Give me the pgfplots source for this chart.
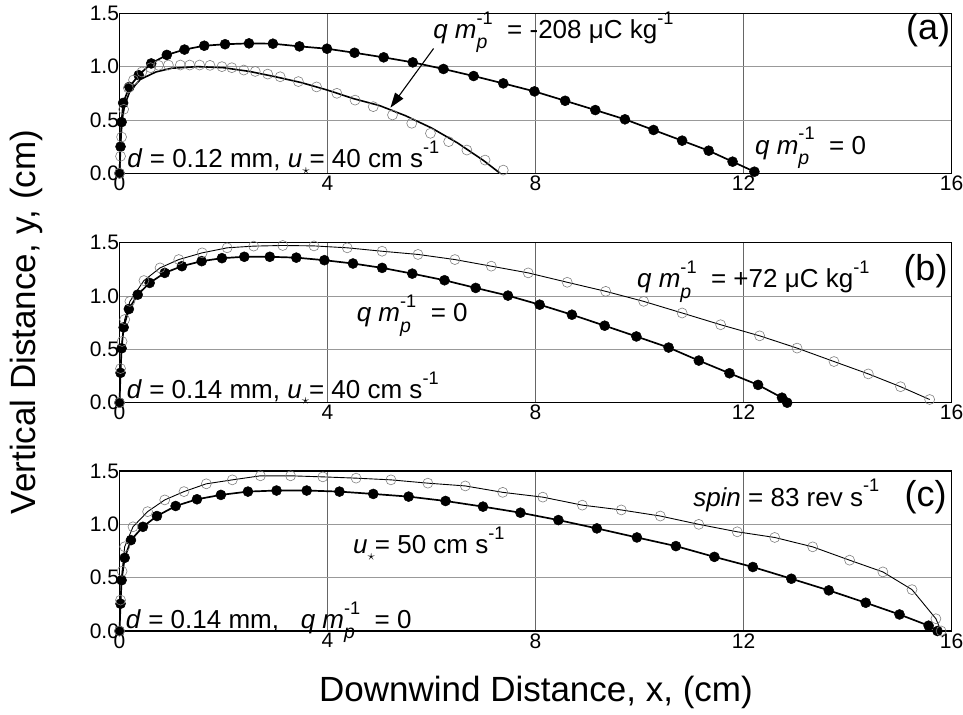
\documentclass[border=0pt]{standalone}
\usepackage{fontspec}
\setmainfont{Liberation Sans}
\usepackage{graphicx}
\usepackage{pgfplots}
\pgfplotsset{compat=1.18}
\usetikzlibrary{arrows.meta}

\newcommand{\supm}[1]{\raisebox{0.55em}{\scalebox{0.7}{#1}}}
\newcommand{\qm}{\textit{q m}\makebox[0pt][l]{\raisebox{-0.4em}{\scalebox{0.75}{\textit{p}}}}\supm{-1}}
\newcommand{\ustar}{\textit{u}\raisebox{-0.25em}{\scalebox{0.6}{$\star$}}}
\newcommand{\ann}{\fontsize{26bp}{30bp}\selectfont}
\newcommand{\panelfont}{\fontsize{36bp}{38bp}\selectfont}

\pgfplotsset{
  panel/.style={
    scale only axis, width=832bp, height=160bp,
    xmin=0, xmax=16, ymin=0, ymax=1.5,
    xtick={0,4,8,12,16}, ytick={0,0.5,1,1.5},
    xmajorgrids, ymajorgrids,
    x grid style={black!60, line width=0.5pt},
    y grid style={black!40, line width=0.5pt},
    axis line style={line width=1.3pt},
    tick style={draw=none},
    /pgf/number format/assume math mode=true,
    tick label style={font=\fontsize{21bp}{23bp}\selectfont},
    yticklabel={\pgfmathprintnumber[fixed,fixed zerofill,precision=1]{\tick}},
    yticklabel style={xshift=3bp},
    xticklabel style={yshift=1bp},
    clip=false,
  },
  full/.style={black, line width=1.7pt, mark=*, mark size=5bp, mark options={fill=black, line width=0.5pt}},
  open/.style={black, line width=0.9pt, mark=o, mark size=5bp, mark options={draw=black!50, line width=0.6pt}},
  openmk/.style={only marks, mark=o, mark size=5bp, mark options={draw=black!50, line width=0.6pt}},
}

\begin{document}
\begin{tikzpicture}
\useasboundingbox (-119.5bp,0bp) rectangle (843.5bp,-715bp);

% ---------------- panel (a)
\begin{axis}[panel, at={(0bp,-173.3bp)}, anchor=south west]
\addplot[full] coordinates {
(0,0) (0.02,0.25) (0.04,0.48) (0.07,0.66) (0.19,0.81) (0.37,0.92) (0.61,1.03)
(0.91,1.11) (1.25,1.16) (1.63,1.196) (2.03,1.21) (2.49,1.218) (2.95,1.215)
(3.46,1.19) (3.99,1.168) (4.52,1.13) (5.08,1.087) (5.64,1.04) (6.23,0.978)
(6.81,0.912) (7.38,0.843) (7.98,0.768) (8.57,0.68) (9.15,0.593) (9.72,0.506)
(10.27,0.406) (10.82,0.306) (11.33,0.212) (11.79,0.109) (12.21,0.015)};
\addplot[openmk] coordinates {
(0,0) (0.02,0.16) (0.04,0.34) (0.08,0.6) (0.17,0.8) (0.27,0.875) (0.43,0.95)
(0.6,0.99) (0.75,1.012) (0.94,1.015) (1.17,1.015) (1.35,1.015) (1.54,1.015)
(1.74,1.012) (1.97,1.0) (2.16,0.99) (2.39,0.968) (2.61,0.955) (2.85,0.93)
(3.09,0.905) (3.44,0.86) (3.79,0.81) (4.18,0.75) (4.53,0.686) (4.88,0.625)
(5.25,0.547) (5.62,0.469) (5.98,0.375) (6.33,0.297) (6.68,0.218) (7.03,0.124)
(7.38,0.03)};
\addplot[black, line width=1.6pt] coordinates {
(0,0) (0.02,0.3) (0.05,0.5) (0.1,0.64) (0.2,0.77) (0.4,0.88) (0.7,0.95) (1.0,0.985)
(1.5,1.0) (2.0,0.99) (2.5,0.955) (3,0.905) (3.5,0.85) (4,0.78) (4.5,0.70) (5,0.635)
(5.5,0.54) (6,0.425) (6.5,0.285) (7,0.12) (7.32,0)};
\draw[-{Triangle[length=15bp,width=10bp]}, line width=1.1pt] (axis cs:6.04,1.17) -- (axis cs:5.21,0.615);
\node[anchor=base west, font=\ann, inner sep=0pt] at (axis cs:6.03,1.265) {\qm{} \ = -208 μC kg\supm{-1}};
\node[anchor=base west, font=\ann, inner sep=0pt] at (axis cs:12.22,0.18) {\qm{} \ = 0};
\node[anchor=base west, font=\ann, inner sep=0pt] at (axis cs:0.15,0.05) {\textit{d} = 0.12 mm, \ustar{}= 40 cm s\supm{-1}};
\node[font=\panelfont, inner sep=0pt] at (axis cs:15.55,1.34) {(a)};
\end{axis}

% ---------------- panel (b)
\begin{axis}[panel, at={(0bp,-402.7bp)}, anchor=south west]
\addplot[full] coordinates {
(0,0) (0.02,0.28) (0.04,0.51) (0.08,0.706) (0.18,0.878) (0.35,1.013) (0.58,1.123)
(0.87,1.217) (1.2,1.28) (1.58,1.327) (1.97,1.355) (2.4,1.368) (2.89,1.368)
(3.40,1.36) (3.94,1.336) (4.49,1.305) (5.05,1.264) (5.63,1.21) (6.25,1.148)
(6.85,1.076) (7.47,1.004) (8.08,0.919) (8.70,0.825) (9.33,0.722) (9.94,0.621)
(10.56,0.517) (11.14,0.395) (11.73,0.276) (12.28,0.167) (12.74,0.047) (12.84,0.0)};
\addplot[open] coordinates {
(0,0) (0.02,0.32) (0.05,0.574) (0.1,0.78) (0.2,0.95) (0.47,1.145) (0.78,1.264)
(1.14,1.342) (1.59,1.405) (2.07,1.452) (2.58,1.468) (3.14,1.474) (3.74,1.47)
(4.38,1.452) (5.05,1.42) (5.74,1.39) (6.45,1.342) (7.15,1.28) (7.86,1.217)
(8.61,1.129) (9.35,1.044) (10.08,0.95) (10.82,0.841) (11.56,0.731) (12.31,0.627)
(13.03,0.512) (13.74,0.386) (14.40,0.27) (15.02,0.15) (15.58,0.03)};
\node[anchor=base west, font=\ann, inner sep=0pt] at (axis cs:4.56,0.76) {\qm{} \ = 0};
\node[anchor=base west, font=\ann, inner sep=0pt] at (axis cs:9.95,1.076) {\qm{} \ = +72 μC kg\supm{-1}};
\node[anchor=base west, font=\ann, inner sep=0pt] at (axis cs:0.14,0.04) {\textit{d} = 0.14 mm, \ustar{}= 40 cm s\supm{-1}};
\node[font=\panelfont, inner sep=0pt] at (axis cs:15.5,1.23) {(b)};
\end{axis}

% ---------------- panel (c)
\begin{axis}[panel, at={(0bp,-631bp)}, anchor=south west]
\addplot[full] coordinates {
(0,0) (0.02,0.256) (0.04,0.476) (0.1,0.686) (0.22,0.852) (0.45,0.977) (0.72,1.078)
(1.08,1.172) (1.49,1.235) (1.95,1.276) (2.47,1.307) (3.02,1.317) (3.60,1.317)
(4.23,1.307) (4.88,1.285) (5.56,1.26) (6.27,1.219) (6.99,1.166) (7.71,1.109)
(8.44,1.04) (9.18,0.962) (9.95,0.877) (10.70,0.796) (11.44,0.695) (12.18,0.60)
(12.92,0.49) (13.64,0.381) (14.35,0.265) (15.0,0.155) (15.56,0.05) (15.73,0.0)};
\addplot[open] coordinates {
(0,0) (0.02,0.29) (0.05,0.56) (0.1,0.79) (0.26,0.977) (0.54,1.119) (0.87,1.229)
(1.24,1.307) (1.67,1.38) (2.17,1.417) (2.71,1.455) (3.29,1.455) (3.91,1.445)
(4.55,1.433) (5.22,1.417) (5.93,1.386) (6.65,1.36) (7.37,1.30) (8.14,1.255)
(8.90,1.18) (9.65,1.135) (10.40,1.078) (11.14,1.0) (11.88,0.93) (12.6,0.877)
(13.33,0.789) (14.04,0.664) (14.68,0.554) (15.24,0.388) (15.70,0.115) (15.8,0.0)};
\node[anchor=base west, font=\ann, inner sep=0pt] at (axis cs:4.49,0.725) {\ustar{}= 50 cm s\supm{-1}};
\node[anchor=base west, font=\ann, inner sep=0pt] at (axis cs:11.03,1.17) {\textit{spin} = 83 rev s\supm{-1}};
\node[anchor=base west, font=\ann, inner sep=0pt] at (axis cs:0.12,0.025) {\textit{d} = 0.14 mm, \ \ \qm{} \ = 0};
\node[font=\panelfont, inner sep=0pt] at (axis cs:15.5,1.25) {(c)};
\end{axis}

\node[rotate=90, font=\fontsize{35bp}{38bp}\selectfont] at (-93.5bp,-322bp) {Vertical Distance, y, (cm)};
\node[font=\fontsize{35bp}{38bp}\selectfont] at (416.5bp,-692bp) {Downwind Distance, x, (cm)};
\end{tikzpicture}
\end{document}
